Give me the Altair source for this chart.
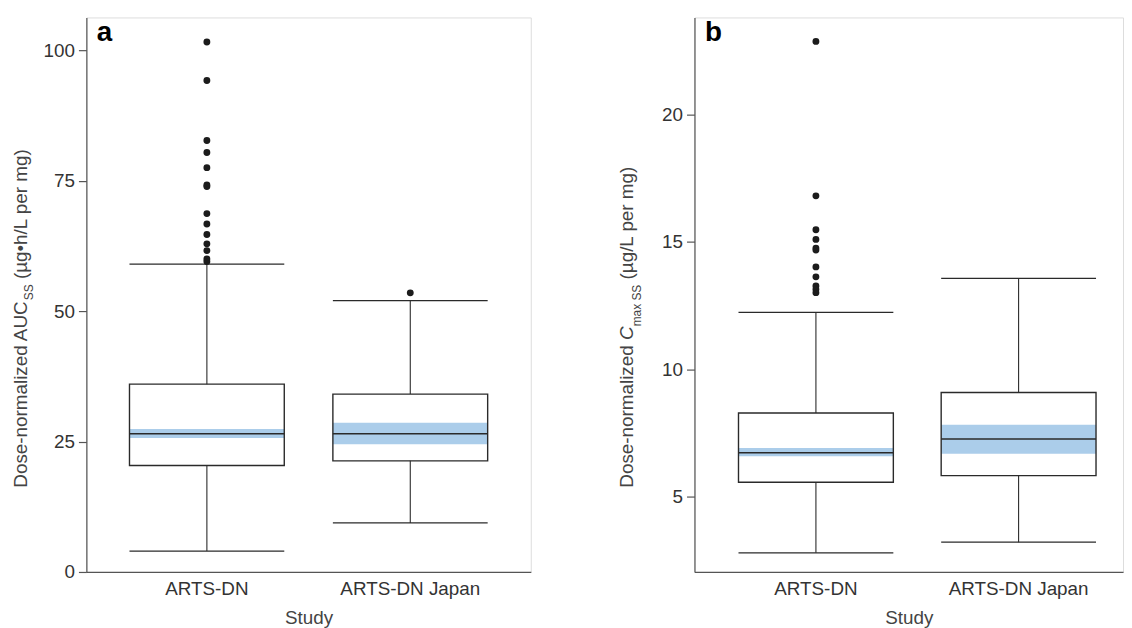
import altair as alt
import pandas as pd

# ---------------- data ----------------
studies = ["ARTS-DN", "ARTS-DN Japan"]

# panel a: dose-normalized AUC_ss
auc_lower = [4.0, 9.4]
auc_q1 = [20.4, 21.3]
auc_median = [26.5, 26.5]
auc_q3 = [36.0, 34.1]
auc_upper = [59.0, 52.0]
auc_ci_low = [25.7, 24.5]
auc_ci_high = [27.4, 28.6]
auc_out_dn = [101.6, 94.2, 82.7, 80.4, 77.5, 74.2, 73.9, 68.7, 66.7, 64.7, 62.9, 61.6, 60.0, 59.5]
auc_out_jp = [53.5]
auc_ticks = [0, 25, 50, 75, 100]

# panel b: dose-normalized Cmax_ss
cmax_lower = [2.79, 3.21]
cmax_q1 = [5.56, 5.82]
cmax_median = [6.72, 7.26]
cmax_q3 = [8.28, 9.08]
cmax_upper = [12.23, 13.56]
cmax_ci_low = [6.58, 6.68]
cmax_ci_high = [6.90, 7.82]
cmax_out_dn = [22.86, 16.8, 15.47, 15.09, 14.75, 14.67, 14.01, 13.62, 13.26, 13.13, 13.0]
cmax_out_jp = []
cmax_ticks = [5, 10, 15, 20]

# ---------------- styling ----------------
FONT = "Liberation Sans"
DARK = "#2a2a2a"
AXIS = "#555555"
BLUE = "#abcdea"
FS = 19
SUB = 12
H = 559

# Arial / Liberation Sans advance widths (per 1000 em) for chaining title pieces
ADV = {' ': 278, '(': 333, ')': 333, '-': 333, '/': 278, '\u2022': 350, '\u00b5': 576,
       'A': 667, 'C': 722, 'D': 722, 'L': 556, 'S': 667, 'U': 722, 'a': 556, 'd': 556,
       'e': 556, 'g': 556, 'h': 556, 'i': 222, 'l': 222, 'm': 833, 'n': 556, 'o': 556,
       'p': 556, 'r': 333, 's': 500, 'x': 500, 'z': 500}


def tw(s, size):
    return sum(ADV.get(c, 556) for c in s) * size / 1000.0


def title_layers(pieces, start, base_x):
    layers = []
    pos = start
    for text, size, italic, shift in pieces:
        stripped = text.lstrip(" ")
        pos -= tw(text[:len(text) - len(stripped)], size)
        body = stripped.rstrip(" ")
        layers.append(
            alt.Chart(pd.DataFrame({"t": [body]})).mark_text(
                font=FONT, fontSize=size, fontStyle="italic" if italic else "normal",
                angle=270, align="left", baseline="alphabetic", color="#444444"
            ).encode(text="t:N", x=alt.value(base_x + shift), y=alt.value(pos))
        )
        pos -= tw(stripped, size)
    return layers


def panel(letter, lower, q1, med, q3, upper, ci_lo, ci_hi, out_dn, out_jp,
          ydomain, yticks, width, p_in, p_out, align, pieces, title_x):
    df = pd.DataFrame({"study": studies, "lower": lower, "q1": q1, "med": med,
                       "q3": q3, "upper": upper, "lo": ci_lo, "hi": ci_hi})
    out = pd.DataFrame({"study": [studies[0]] * len(out_dn) + [studies[1]] * len(out_jp),
                        "value": out_dn + out_jp})
    step = width / (2 - p_in + 2 * p_out)
    bw = step * (1 - p_in)

    xs = alt.Scale(domain=studies, paddingInner=p_in, paddingOuter=p_out, align=align)
    xax = alt.Axis(title="Study", labelAngle=0, ticks=False, tickSize=0, labelPadding=8,
                   titlePadding=10, labelFontSize=FS, titleFontSize=FS, titleFontWeight="normal",
                   labelFont=FONT, titleFont=FONT, labelColor="#333333", titleColor="#444444",
                   domainColor=AXIS, domainWidth=1.2, grid=False)
    ys = alt.Scale(domain=ydomain, nice=False, zero=False)
    yax = alt.Axis(values=yticks, title=None, grid=False, tickSize=8, tickColor=AXIS,
                   tickWidth=1.2, labelPadding=4, labelFontSize=FS, labelFont=FONT,
                   labelColor="#333333", domainColor=AXIS, domainWidth=1.2)
    X = alt.X("study:N", scale=xs, axis=xax, sort=studies)

    def Y(f):
        return alt.Y(f, scale=ys, axis=yax)

    base = alt.Chart(df)
    band = base.mark_bar(fill=BLUE, strokeWidth=0).encode(x=X, y=Y("lo:Q"), y2="hi:Q")
    box = base.mark_bar(fillOpacity=0, stroke=DARK, strokeWidth=1.4).encode(
        x=X, y=Y("q1:Q"), y2="q3:Q")
    median = base.mark_tick(orient="horizontal", size=bw, thickness=1.4, color=DARK,
                            opacity=1).encode(x=X, y=Y("med:Q"))
    wh_up = base.mark_rule(color=DARK, strokeWidth=1.1).encode(x=X, y=Y("q3:Q"), y2="upper:Q")
    wh_lo = base.mark_rule(color=DARK, strokeWidth=1.1).encode(x=X, y=Y("lower:Q"), y2="q1:Q")
    cap_up = base.mark_tick(orient="horizontal", size=bw, thickness=1.3, color=DARK,
                            opacity=1).encode(x=X, y=Y("upper:Q"))
    cap_lo = base.mark_tick(orient="horizontal", size=bw, thickness=1.3, color=DARK,
                            opacity=1).encode(x=X, y=Y("lower:Q"))
    pts = alt.Chart(out).mark_circle(size=48, color="#1c1c1c", opacity=1).encode(
        x=X, y=Y("value:Q"))
    lab = alt.Chart(pd.DataFrame({"t": [letter]})).mark_text(
        font=FONT, fontSize=28, fontWeight="bold", align="left", baseline="alphabetic",
        color="black").encode(text="t:N", x=alt.value(10.5), y=alt.value(24))

    layers = [band, box, median, wh_up, wh_lo, cap_up, cap_lo, pts, lab]
    layers += title_layers(pieces, 474, title_x)
    return alt.layer(*layers).properties(width=width, height=H)


pa = panel("a", auc_lower, auc_q1, auc_median, auc_q3, auc_upper, auc_ci_low, auc_ci_high,
           auc_out_dn, auc_out_jp, [0, 106.3], auc_ticks, 448, 0.239, 0.212, 0.5,
           [("Dose-normalized AUC", FS, False, 0), ("SS", SUB, False, 6),
            (" (\u00b5g\u2022h/L per mg)", FS, False, 0)], -60)

pb = panel("b", cmax_lower, cmax_q1, cmax_median, cmax_q3, cmax_upper, cmax_ci_low, cmax_ci_high,
           cmax_out_dn, cmax_out_jp, [2.04, 23.8], cmax_ticks, 432, 0.236, 0.1752, 0.62,
           [("Dose-normalized ", FS, False, 0), ("C", FS, True, 0), ("max SS", SUB, False, 8),
            (" (\u00b5g/L per mg)", FS, False, 0)], -62)

chart = alt.hconcat(pa, pb, spacing=86).properties(
    padding={"left": 3, "top": 6, "right": 0, "bottom": 0}
).configure_view(stroke=None).configure(background="white")

chart.save("out.html", embed_options={"renderer": "svg", "actions": False})
